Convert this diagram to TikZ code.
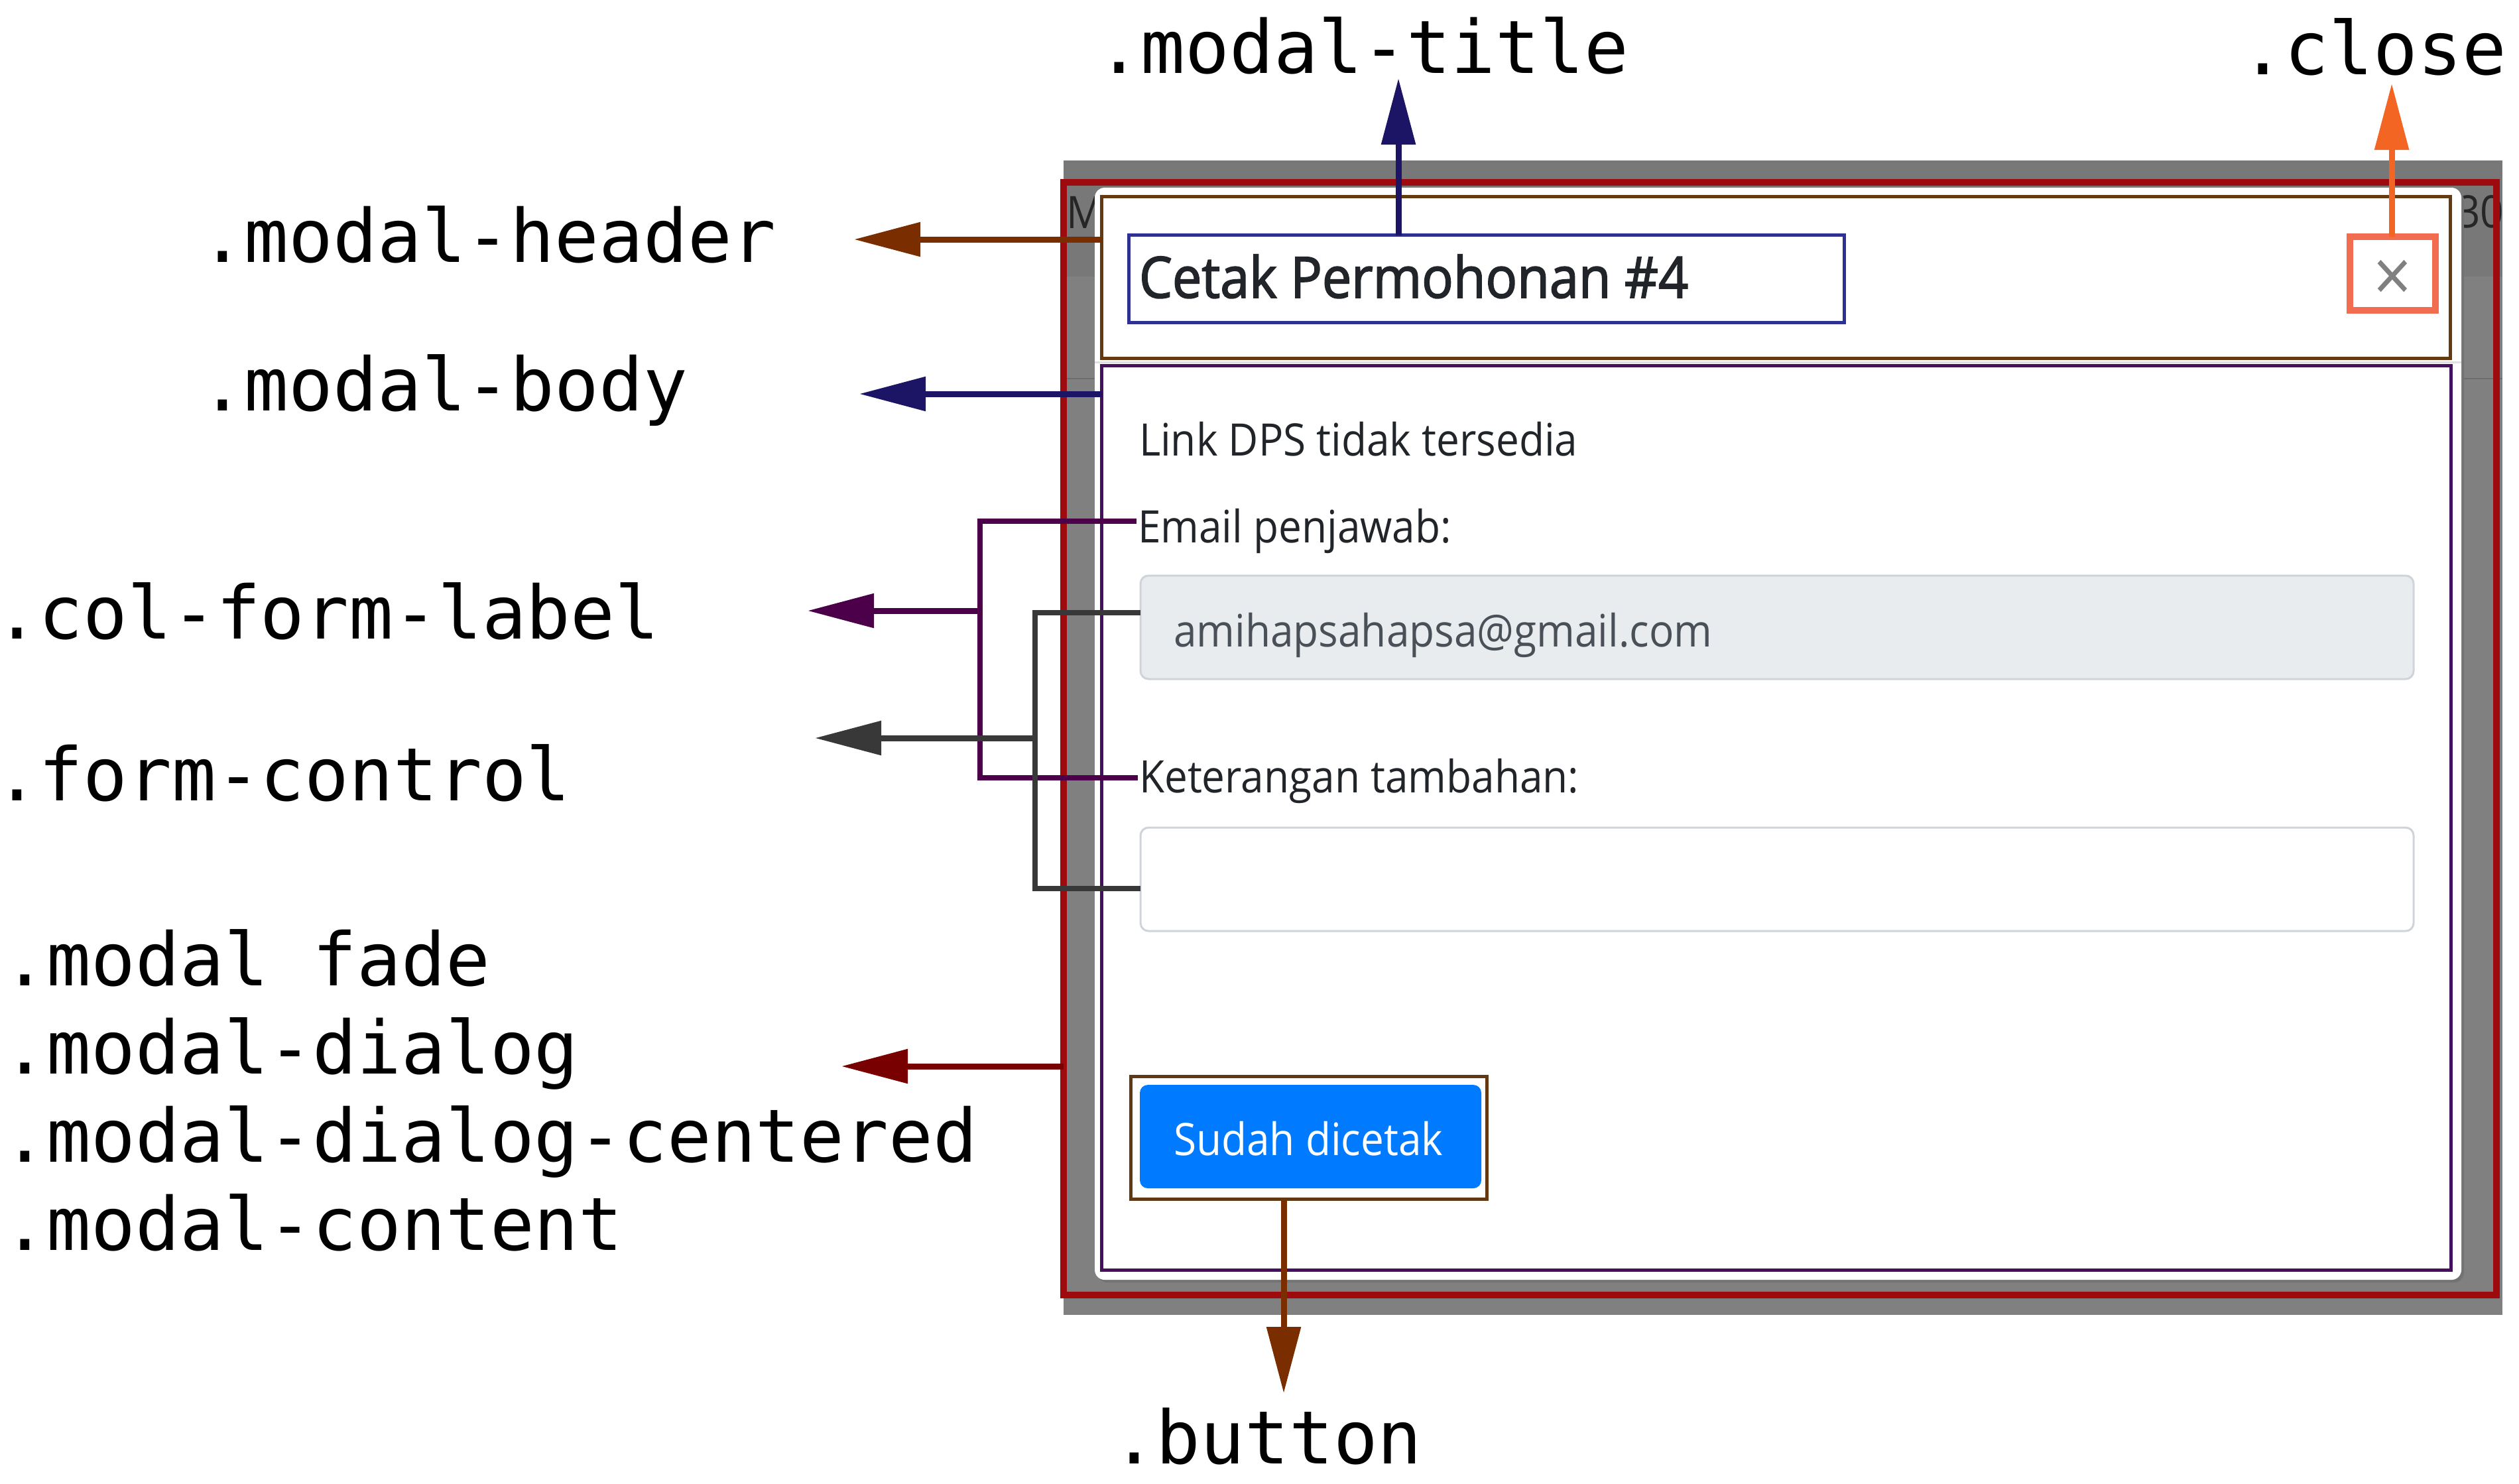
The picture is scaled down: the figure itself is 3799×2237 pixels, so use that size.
\documentclass[tikz,border=0pt]{standalone}
\usepackage{fontspec}
\setmonofont{DejaVu Sans Mono}
\newfontfamily\uifont{Open Sans}[FakeStretch=0.92]
\newfontfamily\uititle{Open Sans}[FakeStretch=0.92,FakeBold=2]
\usetikzlibrary{arrows.meta}

\definecolor{backdrop}{HTML}{808080}
\definecolor{dialogred}{HTML}{9E0B0F}
\definecolor{headerbrown}{HTML}{643A13}
\definecolor{headerarrow}{HTML}{7A2E00}
\definecolor{bodypurple}{HTML}{45105F}
\definecolor{bodyarrow}{HTML}{1C1464}
\definecolor{titleblue}{HTML}{2E3192}
\definecolor{closebox}{HTML}{F26C4F}
\definecolor{closearrow}{HTML}{F26522}
\definecolor{labelplum}{HTML}{4B0049}
\definecolor{controlgray}{HTML}{383838}
\definecolor{dialogarrow}{HTML}{790000}
\definecolor{buttonbrown}{HTML}{603913}
\definecolor{btnblue}{HTML}{007BFF}
\definecolor{inputfill}{HTML}{E9ECEF}
\definecolor{inputline}{HTML}{CED4DA}
\definecolor{uitext}{HTML}{212529}
\definecolor{inputtext}{HTML}{495057}

\begin{document}
\begin{tikzpicture}[x=0.1pt, y=-0.1pt,
  lbl/.style={font=\ttfamily\fontsize{11.1}{12}\selectfont, anchor=base west, inner sep=0pt},
  ui/.style={font=\uifont\fontsize{6.75}{8}\selectfont, text=uitext, anchor=base west, inner sep=0pt},
  box/.style={draw, inner sep=0pt, outer sep=0pt},
  tag/.style={line width=0.9pt, -{Triangle[length=10pt, width=5pt]}},
  brace/.style={line width=0.8pt}]
  \useasboundingbox (0,0) rectangle (3799,2237);

  % backdrop of the page
  \fill[backdrop] (1604,242) rectangle (3774,1983);
  \fill[backdrop!94!black] (1604,242) rectangle (3774,417);
  \draw[backdrop!85!black, line width=0.25pt] (1604,571) -- (3774,571);
  \begin{scope}
    \clip (1604,242) rectangle (3774,1983);
    \node[ui, text=black!85] (pageM) at (1606,344) {M};
    \node[ui, text=black!85] (page30) at (3703,343) {30};
  \end{scope}

  % modal content
  \fill[black!55, rounded corners=1.5pt] (1655,287) rectangle (3716,1934);
  \fill[white, rounded corners=1.5pt] (1651,283) rectangle (3712,1930);
  \draw[white!88!black, line width=0.3pt] (1651,546) -- (3712,546);
  \node[box, draw=dialogred, line width=1pt, minimum width=216.1pt, minimum height=167.8pt] (dialog) at (2684.5,1114) {};
  \node[box, draw=headerbrown, line width=0.5pt, minimum width=203.4pt, minimum height=24.4pt] (header) at (2678.5,418.5) {};
  \node[box, draw=bodypurple, line width=0.5pt, minimum width=203.5pt, minimum height=136.4pt] (body) at (2679,1233.5) {};
  \node[box, draw=titleblue, line width=0.5pt, minimum width=107.9pt, minimum height=13.2pt] (title) at (2242,420.5) {};
  \node[ui, font=\uititle\fontsize{8.6}{10}\selectfont] (titletext) at (1716,449) {Cetak Permohonan \#4};
  \node[box, draw=closebox, line width=1pt, minimum width=12.9pt, minimum height=11.1pt] (close) at (3608.5,412.5) {};
  \node[inner sep=0pt, text=black!50, font=\uifont\fontsize{11}{11}\selectfont] (closex) at (3608.5,424) {×};

  % form
  \node[ui] (linkdps) at (1716,687) {Link DPS tidak tersedia};
  \node[ui] (emaillbl) at (1714,818) {Email penjawab:};
  \node[box, draw=inputline, fill=inputfill, line width=0.3pt, rounded corners=1.2pt,
        minimum width=192pt, minimum height=15.6pt] (email) at (2680,946) {};
  \node[ui, text=inputtext] (mail) at (1768,975) {amihapsahapsa@gmail.com};
  \node[ui] (ketlbl) at (1716,1195) {Keterangan tambahan:};
  \node[box, draw=inputline, fill=white, line width=0.3pt, rounded corners=1.2pt,
        minimum width=192pt, minimum height=15.6pt] (note) at (2680,1326) {};
  \node[box, draw=buttonbrown, line width=0.5pt, minimum width=53.7pt, minimum height=18.5pt] (btnbox) at (1974,1716) {};
  \node[box, draw=none, fill=btnblue, rounded corners=1.2pt, minimum width=51.5pt, minimum height=15.6pt] (button) at (1976.5,1714) {};
  \node[ui, text=white] (btntext) at (1768,1742) {Sudah dicetak};

  % class names
  \node[lbl] (ltitle) at (1652,110) {.modal-title};
  \node[lbl] (lclose) at (3377,112) {.close};
  \node[lbl] (lheader) at (300,395) {.modal-header};
  \node[lbl] (lbody) at (300,619) {.modal-body};
  \node[lbl] (lcol) at (-10,963) {.col-form-label};
  \node[lbl] (lform) at (-10,1207) {.form-control};
  \foreach \name [count=\i] in {.modal fade, .modal-dialog, .modal-dialog-centered, .modal-content}
    \node[lbl] (lmodal\i) at (2,{1486+133*(\i-1)}) {\name};
  \node[lbl] (lbutton) at (1675,2207) {.button};

  % arrow ends
  \coordinate (titletip) at (2109,118);
  \coordinate (closetip) at (3607,126);
  \coordinate (headtip) at (1288,361);
  \coordinate (bodytip) at (1296,594);
  \coordinate (coltip) at (1218,921);
  \coordinate (formtip) at (1229,1113);
  \coordinate (dialogtip) at (1269,1608);
  \coordinate (btntip) at (1936,2101);
  \coordinate (colknee) at (1478,980);
  \coordinate (formknee) at (1561,1100);

  \draw[tag, bodyarrow] (title.north -| titletip) -- (titletip);
  \draw[tag, closearrow] (close.north -| closetip) -- (closetip);
  \draw[tag, headerarrow] (header.west |- headtip) -- (headtip);
  \draw[tag, bodyarrow] (body.west |- bodytip) -- (bodytip);
  \draw[tag, dialogarrow] (dialog.west |- dialogtip) -- (dialogtip);
  \draw[tag, headerarrow] (btnbox.south -| btntip) -- (btntip);

  % brackets
  \draw[brace, labelplum] ([yshift=1.5pt]emaillbl.west) -| (colknee) |- ([yshift=0.5pt]ketlbl.west);
  \draw[tag, labelplum] (colknee |- coltip) -- (coltip);
  \draw[brace, controlgray] ([yshift=2.2pt]email.west) -| (formknee) |- ([yshift=-1.4pt]note.west);
  \draw[tag, controlgray] (formknee |- formtip) -- (formtip);
\end{tikzpicture}
\end{document}
